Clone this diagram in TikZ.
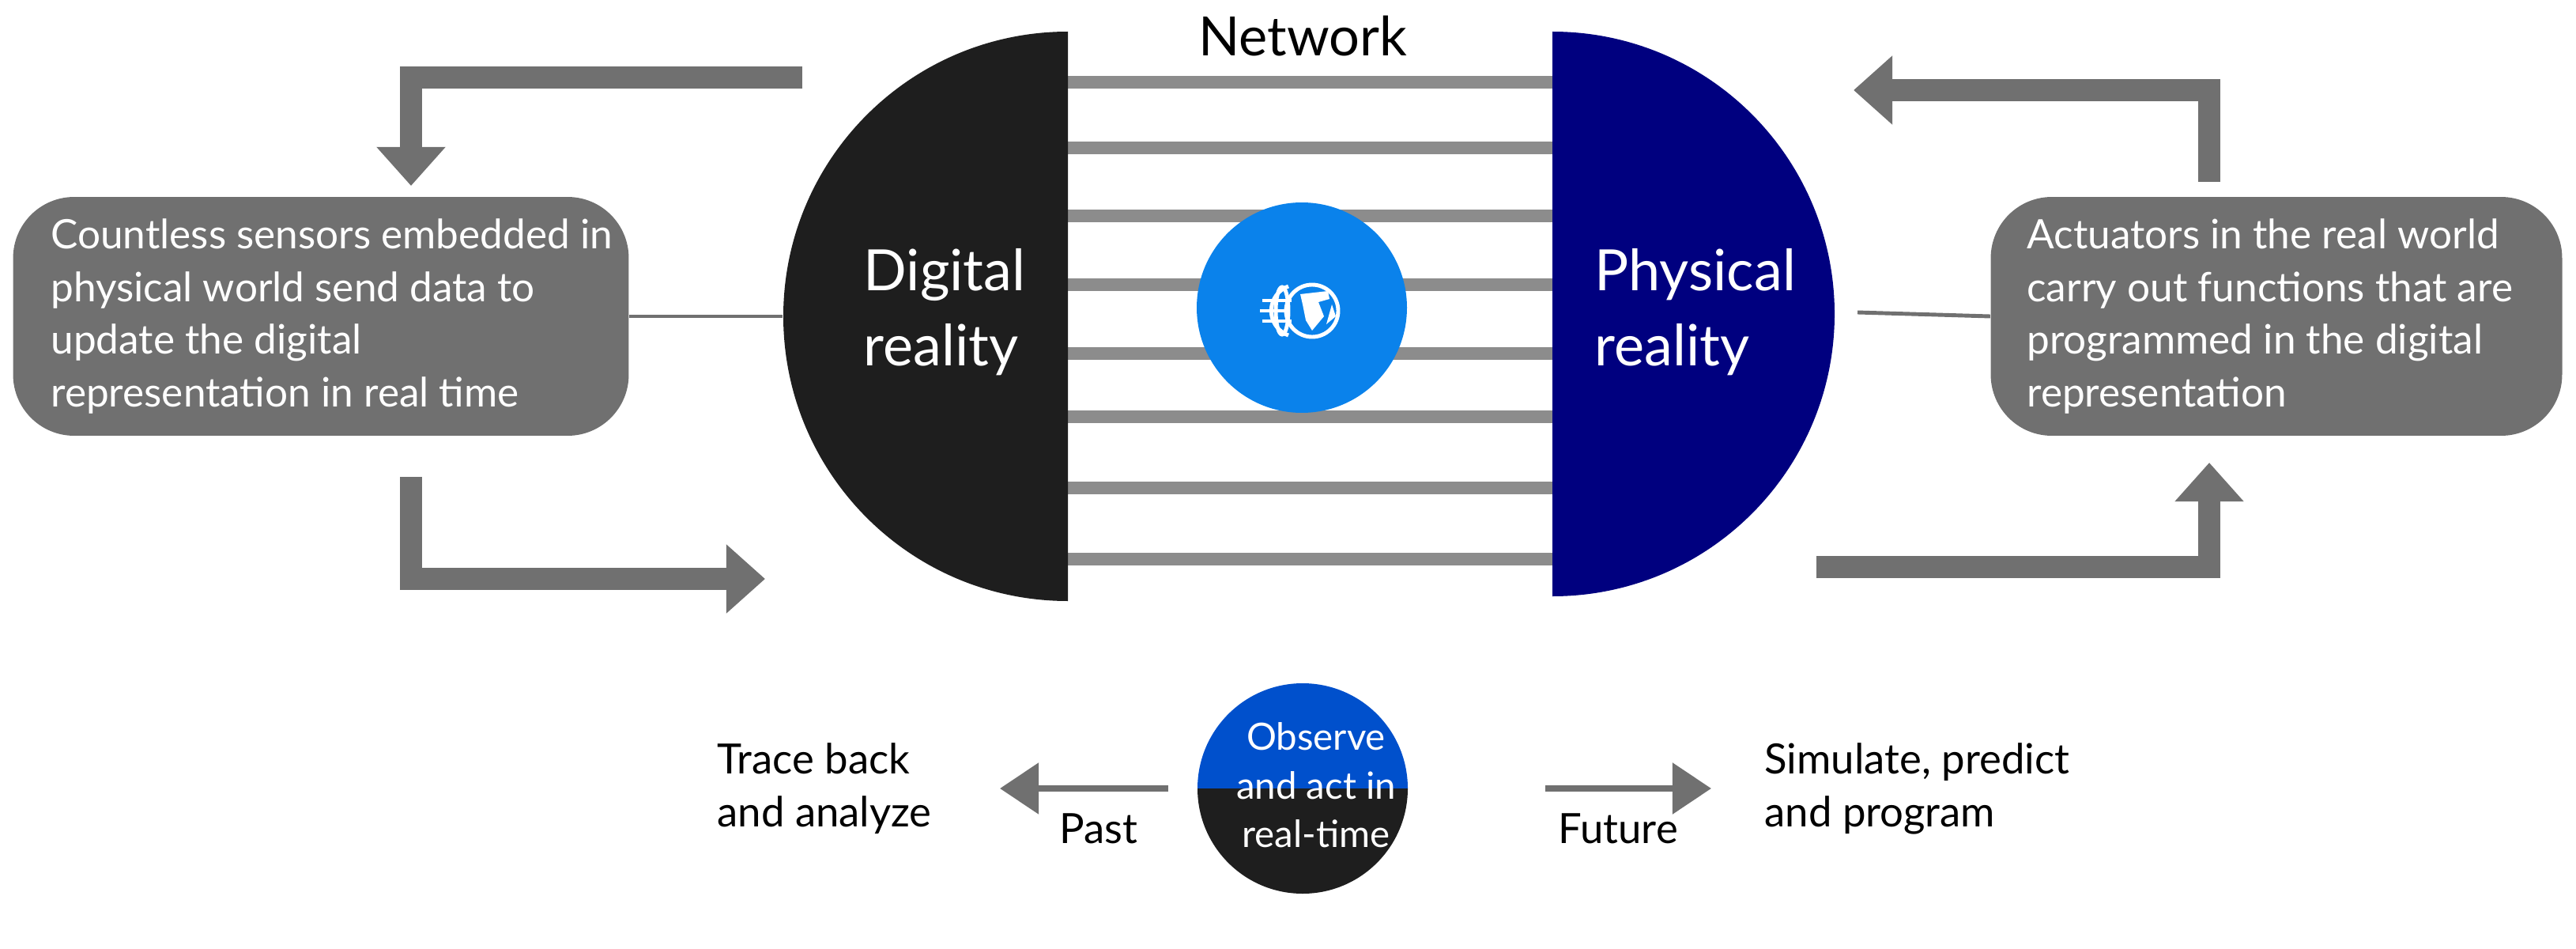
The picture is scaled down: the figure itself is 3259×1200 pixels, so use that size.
\documentclass[tikz,border=0pt]{standalone}
\usepackage{fontspec}
\setmainfont{Lato}
\usetikzlibrary{arrows.meta}
\definecolor{navy}{HTML}{00007F}
\definecolor{dgrey}{HTML}{707070}
\definecolor{bargrey}{HTML}{8C8C8C}
\definecolor{gblue}{HTML}{0A82EB}
\definecolor{oblue}{HTML}{0050CC}
\definecolor{blk}{HTML}{1E1E1E}
\begin{document}
\begin{tikzpicture}[x=0.1mm,y=-0.1mm,
  bar/.style={line width=4.3pt,bargrey},
  flow/.style={line width=8pt,dgrey,-{Triangle[length=14pt,width=24pt]}},
  thin/.style={line width=1.4pt,dgrey},
  small/.style={line width=2.5pt,dgrey,-{Triangle[length=14pt,width=18pt]}},
  box/.style={draw=none,fill=dgrey,rounded corners=22pt,inner sep=0pt},
  btxt/.style={text=white,align=left,anchor=west,font=\fontsize{14.6}{19}\selectfont},
  lbl/.style={font=\fontsize{15}{19}\selectfont,align=left}]
\useasboundingbox (0,0) rectangle (3259,1200);
% bars
\foreach \y in {104,187,273,360,447,527,617,707}{\draw[bar] (1351,\y) -- (1964,\y);}
% half discs
\fill[blk] (1351,40) arc (270:90:360) -- cycle;
\fill[navy] (1964,40) arc (270:450:357) -- cycle;
\node[coordinate] (dl) at (990,400) {};
\node[coordinate] (pr) at (2350,395) {};
\node[text=white,font=\fontsize{20.5}{27}\selectfont,align=left] (dig) at (1195,395) {Digital\\reality};
\node[text=white,font=\fontsize{20.5}{27}\selectfont,align=left,anchor=west] (phy) at (2005,395) {Physical\\reality};
\node[font=\fontsize{19.5}{24}\selectfont] (net) at (1648,46) {Network};
% globe
\node[circle,fill=gblue,minimum size=266*0.2845pt,inner sep=0pt] (globe) at (1647,389) {};
\begin{scope}[white,line width=1.4pt]
  \draw (1660,393) circle (33);
  \fill (1645,372) -- (1680,368) -- (1682,378) -- (1668,382) -- (1675,400) -- (1660,418) -- (1652,405) -- (1648,385) -- cycle;
  \fill (1685,385) -- (1690,400) -- (1678,410) -- cycle;
  \draw (1622,393) ellipse (8 and 30);
  \draw (1597,380) -- (1634,380) (1594,393) -- (1630,393) (1597,406) -- (1634,406);
  \draw (1630,362) arc (250:110:33);
\end{scope}
% boxes
\node[box,minimum width=779*0.2845pt,minimum height=302*0.2845pt] (lb) at (406,400) {};
\node[btxt] (lt) at (52,400) {Countless sensors embedded in\\physical world send data to\\update the digital\\representation in real time};
\node[box,minimum width=723*0.2845pt,minimum height=302*0.2845pt] (rb) at (2880,400) {};
\node[btxt] (rt) at (2552,400) {Actuators in the real world\\carry out functions that are\\programmed in the digital\\representation};
\draw[thin] (lb.east) -- (dl);
\draw[thin] (pr) -- (rb.west);
% flow arrows
\coordinate (a1) at (1015,98); \coordinate (a2) at (520,98); \coordinate (a3) at (520,235);
\draw[flow] (a1) -- (a2) -- (a3);
\coordinate (b1) at (520,603); \coordinate (b2) at (520,732); \coordinate (b3) at (968,732);
\draw[flow] (b1) -- (b2) -- (b3);
\coordinate (c1) at (2298,717); \coordinate (c2) at (2795,717); \coordinate (c3) at (2795,585);
\draw[flow] (c1) -- (c2) -- (c3);
\coordinate (d1) at (2795,230); \coordinate (d2) at (2795,114); \coordinate (d3) at (2345,114);
\draw[flow] (d1) -- (d2) -- (d3);
% bottom circle
\fill[oblue] (1515,997) arc (180:360:133) -- cycle;
\fill[blk] (1515,997) arc (180:0:133) -- cycle;
\node[coordinate] (oc) at (1648,989) {};
\node[text=white,font=\fontsize{13.5}{17.5}\selectfont,align=center] (obs) at (1665,993) {Observe\\and act in\\real-time};
\coordinate (pst0) at (1478,997); \coordinate (pst1) at (1265,997);
\draw[small] (pst0) -- (pst1);
\coordinate (fut0) at (1955,997); \coordinate (fut1) at (2165,997);
\draw[small] (fut0) -- (fut1);
\node[lbl] (past) at (1390,1048) {Past};
\node[lbl] (fut) at (2047,1048) {Future};
\node[lbl,anchor=west] (trace) at (895,997) {Trace back\\and analyze};
\node[lbl,anchor=west] (sim) at (2220,997) {Simulate, predict\\and program};
\end{tikzpicture}
\end{document}
